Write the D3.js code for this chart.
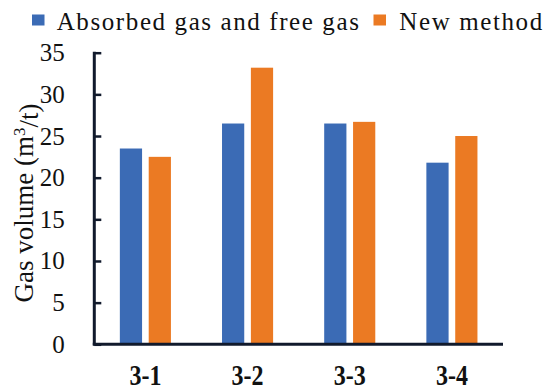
<!DOCTYPE html>
<html>
<head>
<meta charset="utf-8">
<script src="https://cdn.jsdelivr.net/npm/d3@7"></script>
<style>
body { margin: 0; background: #fff; }
</style>
</head>
<body>
<script>
// data
var categories = ["3-1", "3-2", "3-3", "3-4"];
var seriesNames = ["Absorbed gas and free gas", "New method"];
var absorbedFree = [23.5, 26.5, 26.5, 21.8];
var newMethod = [22.5, 33.2, 26.7, 25.0];
var yTicks = [0, 5, 10, 15, 20, 25, 30, 35];
var colors = ["#3b6bb5", "#eb7a23"];

var width = 550;
var height = 392;

var margin = { top: 52.7, bottom: 47.7, left: 94.3, right: 47 };

var svg = d3.select("body")
    .append("svg")
    .attr("width", width)
    .attr("height", height)
    .attr("font-family", "Liberation Serif")
    .attr("fill", "#111");

var plotW = width - margin.left - margin.right;
var plotH = height - margin.top - margin.bottom;

var g = svg.append("g")
    .attr("transform", "translate(" + margin.left + "," + margin.top + ")");

var x0 = d3.scaleBand()
    .domain(categories)
    .range([0, plotW])
    .paddingInner(0.5)
    .paddingOuter(0.25);

var x1 = d3.scaleBand()
    .domain([0, 1])
    .range([0, x0.bandwidth()])
    .paddingInner(0.23);

var y = d3.scaleLinear()
    .domain([0, 35])
    .range([plotH, 0]);

var rows = categories.map(function (c, i) {
    return { cat: c, values: [absorbedFree[i], newMethod[i]] };
});

// bars
var groups = g.selectAll(".grp")
    .data(rows)
    .enter().append("g")
    .attr("class", "grp")
    .attr("transform", function (d) { return "translate(" + x0(d.cat) + ",0)"; });

groups.selectAll("rect")
    .data(function (d) { return d.values; })
    .enter().append("rect")
    .attr("x", function (d, i) { return x1(i); })
    .attr("width", x1.bandwidth())
    .attr("y", function (d) { return y(d); })
    .attr("height", function (d) { return plotH - y(d); })
    .attr("fill", function (d, i) { return colors[i]; });

// y axis, ticks point inward
var yAxis = g.append("g")
    .call(d3.axisRight(y).tickValues(yTicks).tickSize(7).tickFormat(""));
yAxis.select(".domain").remove();
yAxis.selectAll("line").attr("stroke", "#111a2c").attr("stroke-width", 2.5);

g.append("line")
    .attr("x1", 0).attr("x2", 0)
    .attr("y1", -1).attr("y2", plotH + 1)
    .attr("stroke", "#111a2c").attr("stroke-width", 3);

g.selectAll(".ylab")
    .data(yTicks)
    .enter().append("text")
    .attr("class", "ylab")
    .attr("x", -29.5)
    .attr("y", function (d) { return y(d); })
    .attr("dy", "0.34em")
    .attr("text-anchor", "end")
    .attr("font-size", 25)
    .text(function (d) { return d; });

// x axis
g.append("line")
    .attr("x1", -1.5).attr("x2", plotW)
    .attr("y1", plotH).attr("y2", plotH)
    .attr("stroke", "#111a2c").attr("stroke-width", 3);

// category labels look stretched a bit vertically in the original
g.selectAll(".xlab")
    .data(categories)
    .enter().append("text")
    .attr("class", "xlab")
    .attr("transform", function (d) {
        return "translate(" + (x0(d) + x0.bandwidth() / 2) + "," + (plotH + 41) + ") scale(1,1.2)";
    })
    .attr("text-anchor", "middle")
    .attr("font-size", 24)
    .attr("font-weight", "bold")
    .text(function (d) { return d; });

// y title
var title = svg.append("text")
    .attr("transform", "translate(33,203) rotate(-90)")
    .attr("text-anchor", "middle")
    .attr("font-size", 27);
title.append("tspan").text("Gas volume (m");
title.append("tspan").attr("dy", "-0.45em").attr("font-size", 17).text("3");
title.append("tspan").attr("dy", "0.45em").text("/t)");

// legend
var legendX = [32, 373.5];
var legend = svg.selectAll(".leg")
    .data(seriesNames)
    .enter().append("g")
    .attr("class", "leg")
    .attr("transform", function (d, i) { return "translate(" + legendX[i] + ",0)"; });

legend.append("rect")
    .attr("x", 0).attr("y", 14.5)
    .attr("width", 12.5).attr("height", 11)
    .attr("fill", function (d, i) { return colors[i]; });

legend.append("text")
    .attr("x", function (d, i) { return i == 0 ? 24.7 : 25.8; })
    .attr("y", 29.5)
    .attr("font-size", 25)
    .attr("letter-spacing", 1.6)
    .text(function (d) { return d; });
</script>
</body>
</html>
